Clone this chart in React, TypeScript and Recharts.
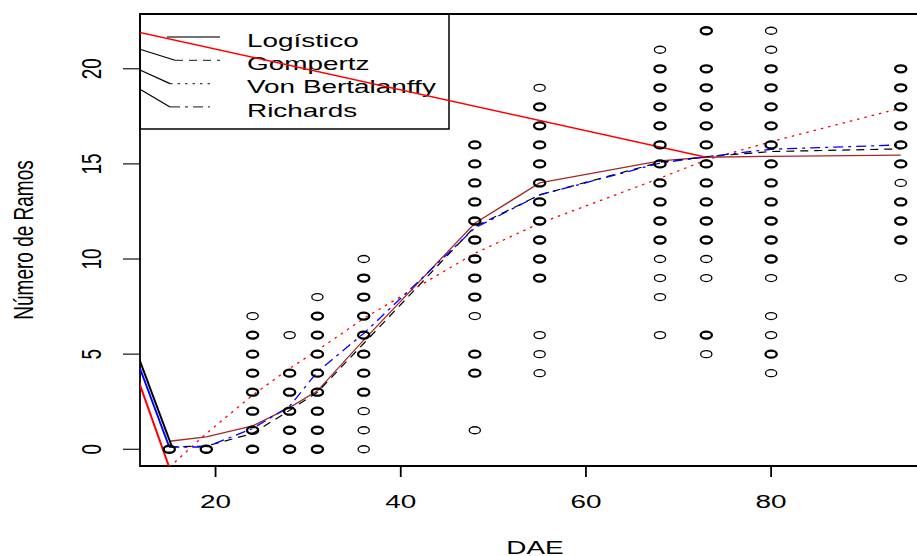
import React from 'react';
import { ComposedChart, Line, Scatter, XAxis, YAxis, ReferenceArea, Customized } from 'recharts';

// DAE (days after emergence) sampled
const dae = [15, 19, 24, 28, 31, 36, 48, 55, 68, 73, 80, 94];

// Observed "Número de Ramos" per DAE (repeated values = overlapping observations)
const obs15 = [0, 0];
const obs19 = [0, 0];
const obs24 = [0, 0, 1, 1, 2, 2, 3, 3, 4, 4, 5, 5, 6, 6, 7];
const obs28 = [0, 0, 1, 1, 2, 2, 3, 3, 4, 4, 6];
const obs31 = [0, 0, 1, 1, 2, 2, 3, 3, 4, 4, 5, 5, 6, 6, 7, 7, 8];
const obs36 = [0, 1, 2, 3, 3, 4, 4, 5, 5, 6, 6, 7, 7, 8, 8, 9, 9, 10];
const obs48 = [1, 4, 4, 5, 5, 7, 8, 8, 9, 9, 10, 10, 11, 11, 12, 12, 13, 13, 14, 14, 15, 15, 16, 16];
const obs55 = [4, 5, 6, 9, 9, 10, 10, 11, 11, 12, 12, 13, 13, 14, 14, 15, 15, 16, 16, 17, 17, 18, 18, 19];
const obs68 = [6, 8, 9, 10, 11, 11, 12, 12, 13, 13, 14, 14, 15, 15, 16, 16, 17, 17, 18, 18, 19, 19, 20, 20, 21];
const obs73 = [5, 6, 6, 9, 10, 11, 11, 12, 12, 13, 13, 14, 14, 15, 15, 16, 16, 17, 17, 18, 18, 19, 19, 20, 20, 22, 22];
const obs80 = [4, 5, 5, 6, 7, 9, 10, 10, 11, 11, 12, 12, 13, 13, 14, 14, 15, 15, 16, 16, 17, 17, 18, 18, 19, 19, 20, 20, 21, 22];
const obs94 = [9, 11, 11, 12, 12, 13, 13, 14, 15, 15, 16, 16, 17, 17, 18, 18, 19, 19, 20, 20];
const observations = [obs15, obs19, obs24, obs28, obs31, obs36, obs48, obs55, obs68, obs73, obs80, obs94];

// Fitted model values at each DAE
const logistico = [0.42, 0.65, 1.23, 2.19, 3.07, 5.74, 11.88, 14.0, 15.16, 15.35, 15.4, 15.46];
const gompertz = [0.12, 0.17, 0.83, 2.05, 3.0, 5.56, 11.7, 13.37, 15.09, 15.38, 15.65, 15.79];
const vonBertalanffy = [-0.95, 0.83, 2.84, 4.25, 5.2, 6.88, 10.3, 11.88, 14.25, 15.21, 16.17, 17.93];
const richards = [0.12, 0.12, 1.09, 2.26, 4.07, 6.09, 11.63, 13.37, 15.04, 15.38, 15.77, 16.0];

// Stray straight segments present in the original figure
const strayBlackX = [0, 15.3];
const strayBlackY = [20.1, 0.12];
const strayBlueX = [0, 15];
const strayBlueY = [19.7, 0.12];
const strayRedLowX = [0, 15];
const strayRedLowY = [19.6, -0.95];
const strayRedHighX = [0, 73];
const strayRedHighY = [23.18, 15.35];

const xTicks = [20, 40, 60, 80];
const yTicks = [0, 5, 10, 15, 20];
const xDomain = [11.84, 97.16];
const yDomain = [-0.88, 22.88];

const legendLabels = ['Logístico', 'Gompertz', 'Von Bertalanffy', 'Richards'];
const xTitle = 'DAE';
const yTitle = 'Número de Ramos';

// layout
const CHART_W = 950;
const CHART_H = 556;
const PLOT_LEFT = 140;
const PLOT_TOP = 14;
const PLOT_RIGHT_MARGIN = 20;
const X_AXIS_H = 90;
const PLOT_W = CHART_W - PLOT_LEFT - PLOT_RIGHT_MARGIN;
const PLOT_H = CHART_H - PLOT_TOP - X_AXIS_H;
const SX = 1.5;
const FONT = 'Liberation Sans, Arial, Helvetica, sans-serif';

const toPts = (xs: number[], ys: number[]) => xs.map((x, i) => ({ x, y: ys[i] }));
const curve = (ys: number[]) => toPts(dae, ys);

const scatterData = observations.flatMap((col, i) => {
  const counts = new Map<number, number>();
  col.forEach((v) => counts.set(v, (counts.get(v) || 0) + 1));
  return Array.from(counts.entries()).map(([v, n]) => ({ x: dae[i], y: v, n }));
});

const XTick = (props: any) => {
  const { x, y, payload } = props;
  return (
    <text
      transform={`translate(${x},${y + 29}) scale(${SX},1)`}
      textAnchor="middle"
      fontFamily={FONT}
      fontSize={18.6}
      fill="#000"
    >
      {payload.value}
    </text>
  );
};

const YTick = (props: any) => {
  const { x, y, payload } = props;
  return (
    <text
      transform={`translate(${x - 30},${y}) scale(${SX},1) rotate(-90)`}
      y={6.8}
      textAnchor="middle"
      fontFamily={FONT}
      fontSize={19}
      fill="#000"
    >
      {payload.value}
    </text>
  );
};

const Ellipse = (props: any) => {
  const { cx, cy, payload } = props;
  if (cx == null || cy == null) return null;
  return (
    <ellipse
      cx={cx}
      cy={cy}
      rx={5.6}
      ry={3.5}
      fill="none"
      stroke="#000"
      strokeWidth={payload && payload.n > 1 ? 2.3 : 1.3}
    />
  );
};

const AxisTitles = () => (
  <g>
    <text
      transform={`translate(${PLOT_LEFT + PLOT_W / 2},${PLOT_TOP + PLOT_H + 87.5}) scale(${SX},1)`}
      textAnchor="middle"
      fontFamily={FONT}
      fontSize={18.6}
      fill="#000"
    >
      {xTitle}
    </text>
    <text
      transform={`translate(22.5,${PLOT_TOP + PLOT_H / 2}) scale(${SX},1) rotate(-90)`}
      y={7}
      textAnchor="middle"
      fontFamily={FONT}
      fontSize={19}
      fill="#000"
    >
      {yTitle}
    </text>
  </g>
);

const LegendBox = () => {
  const x0 = PLOT_LEFT;
  const y0 = PLOT_TOP;
  const dashes = [undefined, '8 6', '2.5 5', '10 5 3 5'];
  const sampleStart = [27, 35, 30, 30];
  const sampleEnd = [80, 80, 74, 70];
  const diagStartY = [null, 35.3, 56, 75.3];
  return (
    <g>
      <rect x={x0} y={y0} width={309} height={115} fill="none" stroke="#000" strokeWidth={1.5} />
      {legendLabels.map((lab, i) => {
        const ly = y0 + 23 + i * 23.3;
        const ds = diagStartY[i];
        return (
          <g key={lab}>
            {ds != null && (
              <line x1={x0} y1={y0 + ds} x2={x0 + sampleStart[i]} y2={ly} stroke="#000" strokeWidth={1.2} />
            )}
            <line
              x1={x0 + sampleStart[i]}
              y1={ly}
              x2={x0 + sampleEnd[i]}
              y2={ly}
              stroke="#444"
              strokeWidth={1.3}
              strokeDasharray={dashes[i]}
            />
            <text
              transform={`translate(${x0 + 107},${ly + 9.8}) scale(1.47,1)`}
              fontFamily={FONT}
              fontSize={19}
              fill="#000"
            >
              {lab}
            </text>
          </g>
        );
      })}
    </g>
  );
};

export default function App() {
  return (
    <div
      style={{
        position: 'absolute',
        left: 0,
        top: 0,
        width: 917,
        height: 556,
        overflow: 'hidden',
        background: '#fff',
      }}
    >
      <ComposedChart
        width={CHART_W}
        height={CHART_H}
        margin={{ top: PLOT_TOP, right: PLOT_RIGHT_MARGIN, bottom: 0, left: 0 }}
      >
        <XAxis
          type="number"
          dataKey="x"
          domain={xDomain}
          ticks={xTicks}
          allowDataOverflow
          axisLine={false}
          tickSize={11}
          tickLine={{ stroke: '#000', strokeWidth: 1.8 }}
          height={X_AXIS_H}
          tick={XTick}
          interval={0}
        />
        <YAxis
          type="number"
          dataKey="y"
          domain={yDomain}
          ticks={yTicks}
          allowDataOverflow
          axisLine={false}
          tickSize={17}
          tickLine={{ stroke: '#000', strokeWidth: 1.1 }}
          width={PLOT_LEFT}
          tick={YTick}
          interval={0}
        />
        <Customized component={<AxisTitles />} />
        <Customized component={<LegendBox />} />
        <Scatter data={scatterData} dataKey="y" shape={Ellipse} isAnimationActive={false} />
        <Line data={curve(logistico)} dataKey="y" type="linear" stroke="#A52A2A" strokeWidth={1.3} dot={false} activeDot={false} isAnimationActive={false} />
        <Line data={curve(gompertz)} dataKey="y" type="linear" stroke="#000" strokeWidth={1.2} strokeDasharray="8 6" dot={false} activeDot={false} isAnimationActive={false} />
        <Line data={curve(vonBertalanffy)} dataKey="y" type="linear" stroke="#FF0000" strokeWidth={1.3} strokeDasharray="2.5 5" dot={false} activeDot={false} isAnimationActive={false} />
        <Line data={curve(richards)} dataKey="y" type="linear" stroke="#0000FF" strokeWidth={1.3} strokeDasharray="10 5 3 5" dot={false} activeDot={false} isAnimationActive={false} />
        <Line data={toPts(strayBlackX, strayBlackY)} dataKey="y" type="linear" stroke="#000" strokeWidth={2} dot={false} activeDot={false} isAnimationActive={false} />
        <Line data={toPts(strayBlueX, strayBlueY)} dataKey="y" type="linear" stroke="#0000FF" strokeWidth={2} dot={false} activeDot={false} isAnimationActive={false} />
        <Line data={toPts(strayRedLowX, strayRedLowY)} dataKey="y" type="linear" stroke="#FF0000" strokeWidth={2} dot={false} activeDot={false} isAnimationActive={false} />
        <Line data={toPts(strayRedHighX, strayRedHighY)} dataKey="y" type="linear" stroke="#FF0000" strokeWidth={1.4} dot={false} activeDot={false} isAnimationActive={false} />
        <ReferenceArea
          x1={xDomain[0]}
          x2={xDomain[1]}
          y1={yDomain[0]}
          y2={yDomain[1]}
          fill="none"
          fillOpacity={0}
          stroke="#000"
          strokeWidth={1.8}
          ifOverflow="visible"
        />
      </ComposedChart>
    </div>
  );
}
